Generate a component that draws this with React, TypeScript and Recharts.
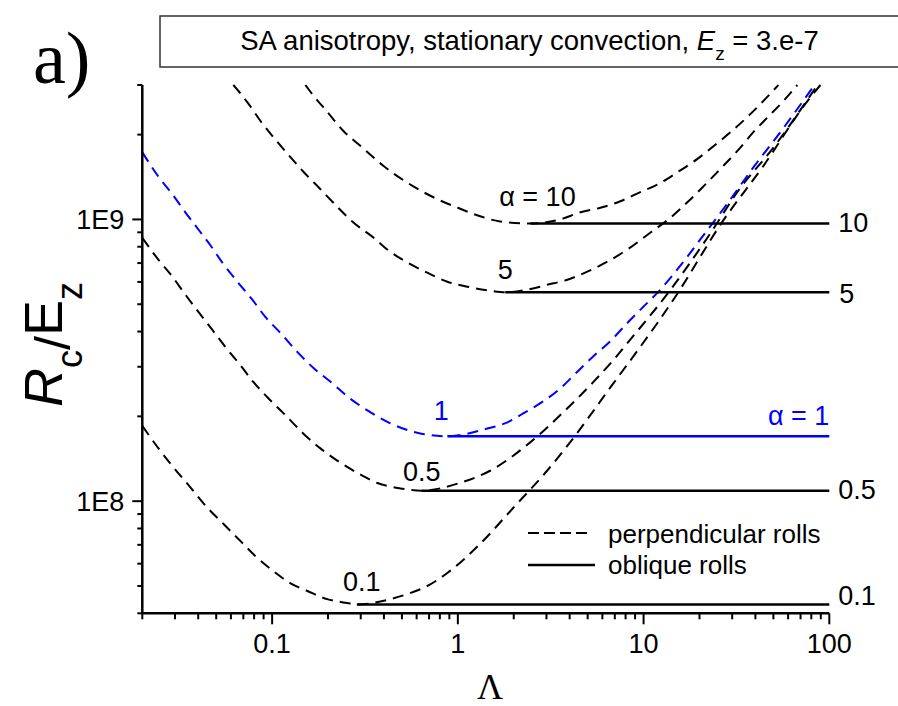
import { ComposedChart, Line, XAxis, YAxis } from 'recharts'

const W = 898
const H = 706
const SANS = '"Liberation Sans", Arial, sans-serif'
const SERIF = '"Liberation Serif", "Times New Roman", serif'
const BLUE = '#0000ff'

// alpha of each family of curves
const ALPHA = ['10', '5', '1', '0.5', '0.1']

// perpendicular rolls, [Lambda, Rc/Ez]
const PERP_10: [number, number][] = [
  [0.151, 3.0e9], [0.167, 2.75e9], [0.198, 2.41e9], [0.242, 2.06e9], [0.306, 1.8e9],
  [0.397, 1.55e9], [0.576, 1.31e9], [0.776, 1.18e9], [1.0, 1.1e9], [1.27, 1.035e9],
  [1.69, 9.84e8], [2.46, 9.68e8], [3.56, 1.0e9], [4.57, 1.06e9], [5.85, 1.1e9],
  [7.5, 1.16e9], [9.6, 1.25e9], [11.9, 1.33e9], [15.2, 1.47e9], [19.5, 1.64e9],
  [23.8, 1.82e9], [29.4, 2.04e9], [36.2, 2.31e9], [43.6, 2.61e9], [53.2, 3.0e9],
]
const PERP_5: [number, number][] = [
  [0.0618, 3.0e9], [0.0735, 2.61e9], [0.0864, 2.24e9], [0.1015, 1.96e9], [0.122, 1.7e9],
  [0.147, 1.48e9], [0.182, 1.28e9], [0.224, 1.11e9], [0.274, 9.75e8], [0.351, 8.63e8],
  [0.417, 7.82e8], [0.535, 7.03e8], [0.685, 6.47e8], [0.878, 6.01e8], [1.125, 5.77e8],
  [1.5, 5.58e8], [1.8, 5.51e8], [2.37, 5.63e8], [3.03, 5.86e8], [3.89, 6.11e8],
  [4.98, 6.53e8], [6.38, 7.08e8], [8.18, 7.82e8], [10.9, 8.99e8], [13.6, 1.0e9],
  [17.2, 1.15e9], [21.0, 1.31e9], [25.9, 1.51e9], [32.0, 1.75e9], [39.0, 2.04e9],
  [46.4, 2.3e9], [56.6, 2.63e9], [67.3, 3.0e9],
]
const PERP_1: [number, number][] = [
  [0.02, 1.73e9], [0.0244, 1.42e9], [0.029, 1.23e9], [0.0341, 1.06e9], [0.0401, 9.21e8],
  [0.0465, 8.1e8], [0.0546, 6.95e8], [0.065, 6.01e8], [0.0782, 5.19e8], [0.0919, 4.51e8],
  [0.111, 3.95e8], [0.137, 3.38e8], [0.167, 2.97e8], [0.211, 2.62e8], [0.257, 2.34e8],
  [0.326, 2.1e8], [0.433, 1.89e8], [0.628, 1.74e8], [0.878, 1.7e8], [1.44, 1.81e8],
  [1.85, 1.905e8], [2.25, 2.05e8], [2.85, 2.25e8], [3.48, 2.48e8], [4.4, 2.88e8],
  [5.37, 3.27e8], [6.63, 3.7e8], [8.18, 4.29e8], [9.98, 4.9e8], [11.9, 5.5e8],
  [16.4, 7.08e8], [20.2, 8.49e8], [28.3, 1.14e9], [39.0, 1.53e9], [54.5, 2.04e9],
  [83.2, 3.0e9],
]
const PERP_05: [number, number][] = [
  [0.02, 8.6e8], [0.0244, 7.2e8], [0.029, 6.27e8], [0.0341, 5.41e8], [0.0401, 4.7e8],
  [0.0476, 4.06e8], [0.056, 3.53e8], [0.0674, 3.04e8], [0.0792, 2.65e8], [0.0954, 2.32e8],
  [0.121, 1.985e8], [0.147, 1.74e8], [0.182, 1.54e8], [0.233, 1.37e8], [0.288, 1.26e8],
  [0.369, 1.16e8], [0.49, 1.11e8], [0.64, 1.09e8], [1.0, 1.155e8], [1.5, 1.285e8],
  [2.46, 1.62e8], [3.7, 2.07e8], [5.37, 2.65e8], [6.88, 3.17e8], [8.18, 3.64e8],
  [13.6, 5.5e8], [22.3, 8.7e8], [32.8, 1.28e9], [49.4, 1.78e9], [86.3, 3.0e9],
]
const PERP_01: [number, number][] = [
  [0.02, 1.85e8], [0.025, 1.51e8], [0.0294, 1.32e8], [0.0363, 1.12e8], [0.0448, 9.48e7],
  [0.0546, 8.32e7], [0.0674, 7.23e7], [0.0832, 6.29e7], [0.1015, 5.65e7], [0.125, 5.12e7],
  [0.155, 4.8e7], [0.198, 4.49e7], [0.254, 4.35e7], [0.286, 4.3e7], [0.433, 4.49e7],
  [0.535, 4.68e7], [0.685, 5.0e7], [0.878, 5.56e7], [1.32, 7.06e7], [1.99, 9.48e7],
  [3.03, 1.285e8], [4.29, 1.71e8], [6.07, 2.34e8], [15.2, 5.45e8], [26.2, 9.68e8],
  [44.2, 1.55e9], [74.3, 2.57e9], [89.6, 3.0e9],
]

// oblique rolls: flat from the minimum of each curve out to Lambda = 100
const OBL_10: [number, number][] = [[2.46, 9.68e8], [100, 9.68e8]]
const OBL_5: [number, number][] = [[1.8, 5.51e8], [100, 5.51e8]]
const OBL_1: [number, number][] = [[0.878, 1.7e8], [100, 1.7e8]]
const OBL_05: [number, number][] = [[0.64, 1.09e8], [100, 1.09e8]]
const OBL_01: [number, number][] = [[0.286, 4.3e7], [100, 4.3e7]]

const X_TICKS = [
  0.02, 0.03, 0.04, 0.05, 0.06, 0.07, 0.08, 0.09, 0.1,
  0.2, 0.3, 0.4, 0.5, 0.6, 0.7, 0.8, 0.9, 1,
  2, 3, 4, 5, 6, 7, 8, 9, 10,
  20, 30, 40, 50, 60, 70, 80, 90, 100,
]
const X_LABELED = [0.1, 1, 10, 100]
const X_TICK_TEXT = ['0.1', '1', '10', '100']
const Y_TICKS = [
  4e7, 5e7, 6e7, 7e7, 8e7, 9e7, 1e8,
  2e8, 3e8, 4e8, 5e8, 6e8, 7e8, 8e8, 9e8, 1e9,
  2e9, 3e9,
]
const Y_LABELED = [1e8, 1e9]
const Y_TICK_TEXT = ['1E8', '1E9']

const xy = (rows: [number, number][]) => rows.map(([x, y]) => ({ x, y }))

type Tag = { text: string; dx: number; dy: number; anchor: 'start' | 'middle' | 'end' }

const GROUPS: { perp: [number, number][]; obl: [number, number][]; color: string; low: Tag; end: Tag }[] = [
  {
    perp: PERP_10, obl: OBL_10, color: '#000',
    low: { text: `α = ${ALPHA[0]}`, dx: 7, dy: -17, anchor: 'middle' },
    end: { text: ALPHA[0], dx: 9, dy: 9, anchor: 'start' },
  },
  {
    perp: PERP_5, obl: OBL_5, color: '#000',
    low: { text: ALPHA[1], dx: 0, dy: -13, anchor: 'middle' },
    end: { text: ALPHA[1], dx: 10, dy: 11, anchor: 'start' },
  },
  {
    perp: PERP_05, obl: OBL_05, color: '#000',
    low: { text: ALPHA[3], dx: 0, dy: -10, anchor: 'middle' },
    end: { text: ALPHA[3], dx: 9, dy: 8, anchor: 'start' },
  },
  {
    perp: PERP_01, obl: OBL_01, color: '#000',
    low: { text: ALPHA[4], dx: 5, dy: -13, anchor: 'middle' },
    end: { text: ALPHA[4], dx: 9, dy: 1, anchor: 'start' },
  },
  {
    perp: PERP_1, obl: OBL_1, color: BLUE,
    low: { text: ALPHA[2], dx: -6, dy: -16, anchor: 'middle' },
    end: { text: `α = ${ALPHA[2]}`, dx: 0, dy: -11, anchor: 'end' },
  },
]

const XTick = (p: any) => {
  const i = X_LABELED.indexOf(p.payload.value)
  return (
    <g>
      <line x1={p.x} x2={p.x} y1={p.y} y2={p.y + (i >= 0 ? 11 : 6)} stroke="#000" strokeWidth={2} />
      {i >= 0 && (
        <text x={p.x} y={p.y + 40} textAnchor="middle" fontSize={27} fontFamily={SANS} fill="#000">
          {X_TICK_TEXT[i]}
        </text>
      )}
    </g>
  )
}

const YTick = (p: any) => {
  const i = Y_LABELED.indexOf(p.payload.value)
  return (
    <g>
      <line x1={p.x} x2={p.x - (i >= 0 ? 10 : 5)} y1={p.y} y2={p.y} stroke="#000" strokeWidth={2} />
      {i >= 0 && (
        <text x={p.x - 18} y={p.y + 10} textAnchor="end" fontSize={27} fontFamily={SANS} fill="#000">
          {Y_TICK_TEXT[i]}
        </text>
      )}
    </g>
  )
}

// labels sit on the two ends of each oblique-roll line
const endTags = (g: (typeof GROUPS)[number]) => (p: any) => {
  const t = p.index === 0 ? g.low : g.end
  return (
    <text
      key={`tag-${p.index}`}
      x={p.cx + t.dx}
      y={p.cy + t.dy}
      textAnchor={t.anchor}
      fontSize={27}
      fontFamily={SANS}
      fill={g.color}
    >
      {t.text}
    </text>
  )
}

export default function App() {
  return (
    <div style={{ position: 'absolute', left: 0, top: 0, width: W, height: H, background: '#fff' }}>
      <ComposedChart width={W} height={H} margin={{ top: 85, right: 68.7, bottom: 32.7, left: 62.3 }}>
        <XAxis
          dataKey="x"
          type="number"
          scale="log"
          domain={[0.02, 100]}
          ticks={X_TICKS}
          interval={0}
          height={60}
          tickSize={0}
          tickMargin={0}
          tickLine={false}
          axisLine={{ stroke: '#000', strokeWidth: 2.5 }}
          tick={(p: any) => <XTick {...p} />}
        />
        <YAxis
          type="number"
          scale="log"
          domain={[4e7, 3e9]}
          ticks={Y_TICKS}
          interval={0}
          width={80}
          tickSize={0}
          tickMargin={0}
          tickLine={false}
          axisLine={{ stroke: '#000', strokeWidth: 2.5 }}
          tick={(p: any) => <YTick {...p} />}
        />
        {GROUPS.map((g, i) => (
          <Line
            key={`perp-${i}`}
            data={xy(g.perp)}
            dataKey="y"
            type="monotone"
            stroke={g.color}
            strokeWidth={2}
            strokeDasharray="11 7"
            dot={false}
            activeDot={false}
            isAnimationActive={false}
          />
        ))}
        {GROUPS.map((g, i) => (
          <Line
            key={`obl-${i}`}
            data={xy(g.obl)}
            dataKey="y"
            type="linear"
            stroke={g.color}
            strokeWidth={2.5}
            dot={endTags(g)}
            activeDot={false}
            isAnimationActive={false}
          />
        ))}
      </ComposedChart>
      <svg
        width={W}
        height={H}
        style={{ position: 'absolute', left: 0, top: 0, pointerEvents: 'none', whiteSpace: 'pre' }}
      >
        <text x={33} y={83} fontSize={74} fontFamily={SERIF} fill="#000">a)</text>
        <rect x={160} y={16} width={760} height={51} fill="#fff" stroke="#333" strokeWidth={1.5} />
        <text x={529.5} y={50} textAnchor="middle" fontSize={27.5} fontFamily={SANS} fill="#000">
          <tspan>SA anisotropy, stationary convection, </tspan>
          <tspan fontStyle="italic">E</tspan>
          <tspan dy={10} fontSize={19}>z</tspan>
          <tspan dy={-10}> = 3.e-7</tspan>
        </text>
        <text transform="translate(62 407) rotate(-90)" fontSize={54} fontFamily={SANS} fill="#000">
          <tspan fontStyle="italic">R</tspan>
          <tspan dy={20} fontSize={36}>c</tspan>
          <tspan dy={-12} fontSize={50}>/</tspan>
          <tspan dy={-8}>E</tspan>
          <tspan dy={20} fontSize={36}>z</tspan>
        </text>
        <text x={490} y={699} textAnchor="middle" fontSize={36} fontFamily={SERIF} fill="#000">Λ</text>
        <line x1={528} x2={588} y1={533} y2={533} stroke="#000" strokeWidth={2} strokeDasharray="11 5" />
        <text x={608} y={543} fontSize={26} fontFamily={SANS} fill="#000">perpendicular rolls</text>
        <line x1={528} x2={595} y1={565} y2={565} stroke="#000" strokeWidth={2.5} />
        <text x={608} y={574} fontSize={26} fontFamily={SANS} fill="#000">oblique rolls</text>
      </svg>
    </div>
  )
}
